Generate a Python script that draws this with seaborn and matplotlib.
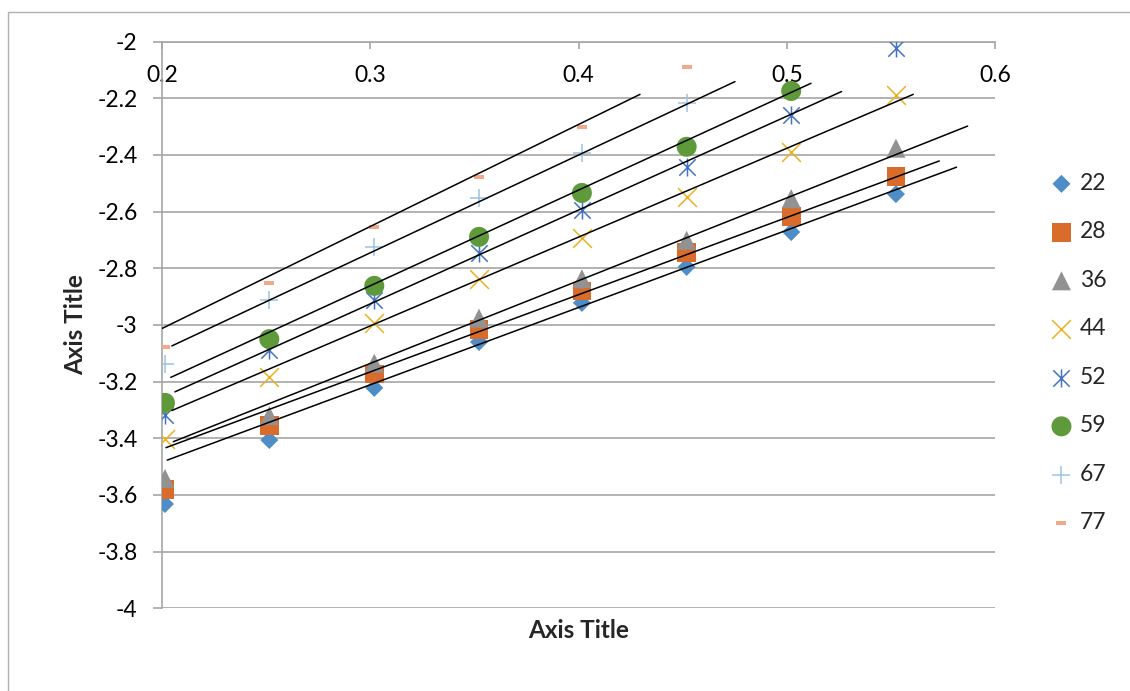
import numpy as np
import pandas as pd
import matplotlib
matplotlib.use("Agg")
import matplotlib.pyplot as plt
import seaborn as sns
from matplotlib.path import Path
from matplotlib.patches import Rectangle

# datos
x_vals = [0.2014, 0.2515, 0.3019, 0.3522, 0.4016, 0.4519, 0.5021, 0.5524]

y22 = [-3.632, -3.406, -3.222, -3.060, -2.922, -2.795, -2.672, -2.538]
y28 = [-3.582, -3.356, -3.173, -3.017, -2.880, -2.745, -2.618, -2.477]
y36 = [-3.542, -3.320, -3.135, -2.976, -2.837, -2.701, -2.554, -2.376]
y44 = [-3.403, -3.184, -2.993, -2.838, -2.692, -2.548, -2.389, -2.188]
y52 = [-3.316, -3.090, -2.912, -2.746, -2.594, -2.442, -2.259, -2.022]
y59 = [-3.275, -3.050, -2.862, -2.689, -2.534, -2.371, -2.174]
y67 = [-3.137, -2.912, -2.725, -2.552, -2.393, -2.216]
y77 = [-3.077, -2.852, -2.655, -2.478, -2.301, -2.089]

series_names = ['22', '28', '36', '44', '52', '59', '67', '77']
series_y = [y22, y28, y36, y44, y52, y59, y67, y77]

# lineas de tendencia (inicio y fin)
trend_x0 = [0.2001, 0.2047, 0.2042, 0.2062, 0.2047, 0.2054, 0.2019, 0.2025]
trend_y0 = [-3.012, -3.074, -3.185, -3.236, -3.302, -3.412, -3.433, -3.477]
trend_x1 = [0.4295, 0.4751, 0.5116, 0.5263, 0.5607, 0.5868, 0.5732, 0.5815]
trend_y1 = [-2.186, -2.141, -2.147, -2.176, -2.186, -2.298, -2.421, -2.443]

# estilos de marcador tipo Excel
asterisco = Path([(-0.5, -0.5), (0.5, 0.5), (-0.5, 0.5), (0.5, -0.5), (0, -0.55), (0, 0.55)],
                 [Path.MOVETO, Path.LINETO, Path.MOVETO, Path.LINETO, Path.MOVETO, Path.LINETO])
guion = Path([(-0.5, -0.2), (0.5, -0.2), (0.5, 0.2), (-0.5, 0.2), (-0.5, -0.2)],
             [Path.MOVETO, Path.LINETO, Path.LINETO, Path.LINETO, Path.CLOSEPOLY])

colores = ['#4F8DC6', '#D96C2A', '#929292', '#EDB120', '#4472C4', '#5E9A3A', '#9DC3E6', '#F2A88A']
marcadores = ['D', 's', '^', 'x', asterisco, 'o', '+', guion]
tamanos = [9.2, 13.5, 13.7, 13.5, 13.0, 14.4, 13.0, 7.2]  # en puntos
lineales = [False, False, False, True, True, False, True, False]

sns.set_style('white')
plt.rcParams['font.family'] = ['Lato', 'DejaVu Sans']
plt.rcParams['axes.unicode_minus'] = False

fig = plt.figure(figsize=(11.3, 6.91), dpi=100)
fig.patches.append(Rectangle((8.3 / 1130, -0.1), 1.5, 0.983 + 0.1, transform=fig.transFigure,
                             fill=False, edgecolor='#B0B0B0', lw=1.0))
ax = fig.add_axes([0.1434, 0.1197, 0.7372, 0.82])

for nombre, ys, c, m, s, lin in zip(series_names, series_y, colores, marcadores, tamanos, lineales):
    df = pd.DataFrame({'x': x_vals[:len(ys)], 'y': ys})
    if lin:
        sns.scatterplot(data=df, x='x', y='y', ax=ax, marker=m, s=s ** 2, color=c,
                        edgecolor=c, facecolor=c, linewidth=1.1, label=nombre, zorder=3)
    else:
        sns.scatterplot(data=df, x='x', y='y', ax=ax, marker=m, s=s ** 2, color=c,
                        edgecolor='none', linewidth=0, label=nombre, zorder=3)

for x0, y0, x1, y1 in zip(trend_x0, trend_y0, trend_x1, trend_y1):
    sns.lineplot(x=[x0, x1], y=[y0, y1], ax=ax, color='black', lw=1.1, zorder=4)

ax.set_xlim(0.2, 0.6)
ax.set_ylim(-4, -2)
ax.set_xticks([0.2, 0.3, 0.4, 0.5, 0.6])
ax.set_xticklabels(['0.2', '0.3', '0.4', '0.5', '0.6'])
yt = np.round(np.arange(-4, -1.99, 0.2), 1)
ax.set_yticks(yt)
ax.set_yticklabels(['{:g}'.format(v) for v in yt])

gris = '#A6A6A6'
ax.yaxis.grid(True, color=gris, lw=1.2)
ax.xaxis.grid(False)
for lado in ['right', 'bottom']:
    ax.spines[lado].set_visible(False)
for lado in ['left', 'top']:
    ax.spines[lado].set_color(gris)
    ax.spines[lado].set_linewidth(1.2)

ax.tick_params(axis='x', top=True, labeltop=True, bottom=False, labelbottom=False,
               direction='in', length=5, width=1.2, color=gris, pad=-32, labelsize=16.5, labelcolor='black')
ax.tick_params(axis='y', left=True, direction='out', length=6.5, width=1.2, color=gris,
               pad=11, labelsize=16.5, labelcolor='black')

ax.set_xlabel('Axis Title', fontsize=17.5, fontweight='bold')
ax.set_ylabel('Axis Title', fontsize=17.5, fontweight='bold')
ax.xaxis.label.set_va('center')
ax.yaxis.label.set_va('center')
ax.xaxis.set_label_coords(0.5006, -0.040)
ax.yaxis.set_label_coords(-0.1035, 0.5)

handles, labels = ax.get_legend_handles_labels()
orden = [labels.index(n) for n in series_names]
ax.legend([handles[i] for i in orden], [labels[i] for i in orden],
          loc='center left', bbox_to_anchor=(1050 / 1130, 0.489), bbox_transform=fig.transFigure,
          frameon=False, fontsize=16.5, handlelength=1.0, handletextpad=0.3,
          labelspacing=1.2, borderaxespad=0, borderpad=0)

fig.savefig('out.png', dpi=100)
